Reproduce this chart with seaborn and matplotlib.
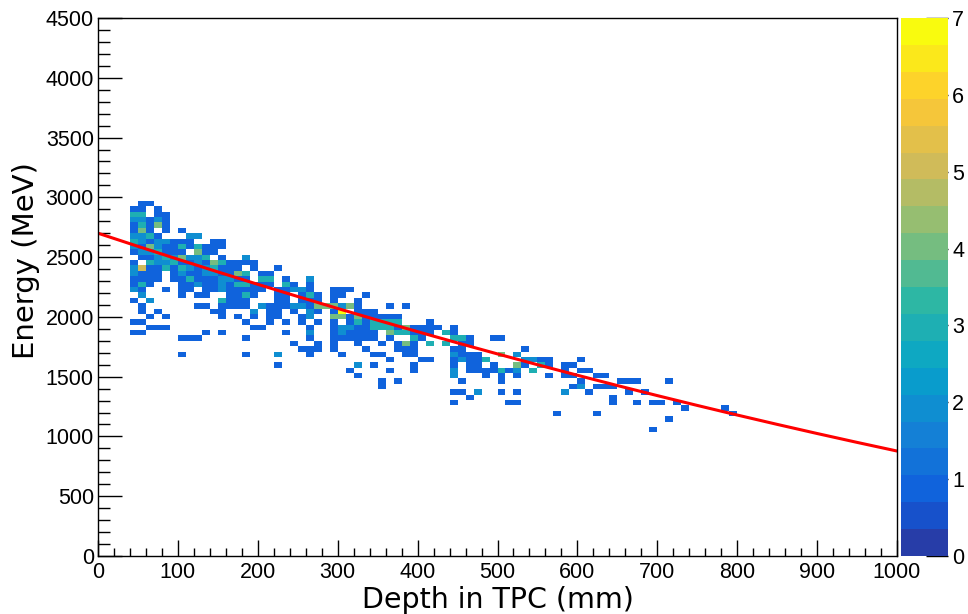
#Energy vs depth 2D histogram with pol2 fit (ROOT style look)
import numpy as np
import pandas as pd
import matplotlib
matplotlib.use("Agg")
import matplotlib.pyplot as plt
from matplotlib.colors import LinearSegmentedColormap, ListedColormap
from matplotlib.ticker import MultipleLocator
import seaborn as sns

#binning of the TH2 (100 x 100 bins)
depth_nbins, depth_range = 100, (0, 1000)
energy_nbins, energy_range = 100, (0, 4500)

#filled cells -> {energy bin: {depth bin: entries}}
cells_near = {
    65: {5: 1, 6: 1},
    64: {4: 1, 5: 1, 7: 1},
    63: {4: 3, 5: 3, 7: 1, 8: 1},
    62: {4: 2, 5: 2, 6: 1, 7: 2, 8: 1},
    61: {4: 1, 5: 3, 6: 1, 7: 4, 8: 1},
    60: {4: 1, 5: 4, 6: 1, 8: 1, 10: 1},
    59: {4: 2, 5: 2, 6: 3, 7: 1, 11: 2, 12: 2},
    58: {4: 3, 5: 2, 6: 1, 7: 2, 8: 2, 9: 1, 10: 1, 11: 1, 14: 1, 15: 1},
    57: {4: 2, 5: 1, 6: 4, 7: 2, 8: 1, 9: 1, 10: 3, 11: 1, 12: 3, 13: 1, 14: 1, 15: 1},
    56: {4: 1, 5: 2, 6: 2, 7: 3, 8: 1, 9: 1, 10: 1, 12: 4, 13: 1, 14: 1},
    55: {5: 1, 6: 1, 7: 2, 8: 3, 9: 2, 10: 4, 11: 2, 12: 2, 13: 3, 15: 1, 18: 2},
    54: {4: 1, 6: 3, 7: 2, 8: 2, 9: 3, 10: 1, 11: 1, 12: 2, 13: 1, 14: 4, 15: 3, 16: 1,
         17: 1, 18: 1, 19: 1},
    53: {4: 2, 5: 5, 6: 1, 7: 1, 8: 3, 9: 1, 10: 3, 11: 2, 12: 1, 13: 2, 14: 3, 15: 1,
         16: 1, 17: 1, 19: 1, 22: 1},
    52: {4: 2, 5: 1, 6: 1, 7: 1, 9: 1, 10: 2, 11: 1, 12: 1, 13: 2, 14: 2, 15: 1, 16: 1,
         17: 4, 18: 3, 20: 1, 21: 1},
    51: {4: 1, 5: 1, 6: 1, 7: 1, 9: 1, 10: 1, 11: 3, 12: 1, 13: 1, 14: 1, 15: 2, 16: 2,
         17: 1, 18: 1, 20: 3, 21: 3, 23: 1, 26: 2},
    50: {4: 1, 5: 3, 6: 1, 10: 1, 11: 1, 12: 2, 13: 1, 14: 1, 15: 2, 16: 1, 17: 3, 18: 3,
         19: 1, 20: 1, 21: 1, 23: 3, 24: 1, 26: 1},
    49: {4: 2, 5: 1, 8: 1, 10: 1, 11: 1, 13: 1, 14: 1, 15: 2, 16: 1, 17: 1, 18: 1, 19: 1,
         20: 1, 22: 1, 23: 1, 24: 2, 25: 2, 26: 1},
    48: {5: 2, 10: 1, 12: 1, 13: 1, 16: 1, 17: 1, 18: 3, 19: 1, 22: 1, 23: 1, 25: 1,
         26: 3, 27: 1},
    47: {4: 1, 6: 2, 15: 3, 16: 1, 17: 1, 18: 1, 22: 1, 23: 1, 25: 1, 26: 1, 27: 1},
    46: {5: 1, 12: 1, 13: 1, 15: 1, 16: 1, 17: 1, 18: 1, 20: 2, 21: 1, 22: 1, 23: 1,
         24: 2, 25: 2, 26: 1, 27: 4, 28: 4},
    45: {5: 1, 7: 1, 14: 1, 15: 1, 19: 2, 21: 1, 22: 1, 24: 1, 26: 2, 27: 1},
    44: {6: 1, 8: 1, 15: 1, 17: 1, 19: 1, 21: 1, 22: 1, 25: 1, 26: 2},
    43: {4: 1, 5: 1, 18: 1, 21: 1, 23: 1, 25: 1, 27: 1},
    42: {6: 1, 7: 1, 8: 1, 19: 1, 20: 1, 26: 1},
    41: {4: 1, 5: 1, 13: 1, 15: 1, 23: 1, 26: 2},
    40: {10: 1, 11: 1, 12: 1, 18: 1, 26: 1},
    39: {24: 1, 27: 1},
    38: {25: 1, 26: 1, 27: 1},
    37: {10: 1, 18: 1, 22: 2, 26: 1},
    35: {22: 1},
}
cells_mid = {
    49: {29: 1, 30: 1, 31: 1},
    48: {29: 1, 30: 1, 33: 1},
    47: {29: 1, 32: 1},
    46: {29: 4, 30: 2, 31: 4, 32: 1, 36: 1, 38: 1},
    45: {29: 1, 30: 7, 32: 1, 33: 1, 34: 1},
    44: {29: 4, 30: 4, 31: 1, 32: 4, 33: 1, 34: 1, 35: 1, 36: 1, 37: 1},
    43: {29: 1, 31: 1, 32: 3, 33: 1, 34: 3, 35: 3, 36: 3, 37: 3, 41: 1},
    42: {29: 1, 30: 2, 31: 2, 32: 1, 33: 1, 34: 3, 35: 3, 36: 3, 37: 1, 38: 4, 39: 1,
         40: 1, 41: 1, 42: 1, 44: 1},
    41: {29: 1, 30: 2, 31: 1, 32: 1, 33: 1, 34: 1, 36: 4, 37: 3, 38: 3, 39: 1, 40: 1,
         41: 1, 43: 3, 44: 1},
    40: {29: 1, 30: 1, 31: 1, 32: 1, 33: 1, 34: 1, 36: 1, 39: 3, 40: 1, 44: 3, 45: 3,
         46: 1, 49: 1, 50: 1},
    39: {29: 1, 32: 1, 35: 1, 37: 1, 38: 4, 39: 1, 41: 3, 43: 3, 45: 1, 46: 1},
    38: {29: 1, 33: 1, 37: 1, 38: 1, 39: 1, 44: 1, 45: 1, 53: 1},
    37: {30: 1, 34: 1, 35: 1, 38: 1, 39: 1, 44: 2, 45: 1, 46: 1, 47: 1, 50: 4, 52: 2},
    36: {36: 1, 40: 1, 41: 1, 44: 1, 45: 2, 46: 1, 47: 1, 48: 3, 53: 2, 54: 2},
    35: {32: 2, 34: 1, 39: 1, 44: 1, 46: 1, 47: 1, 49: 1, 52: 4, 53: 1},
    34: {31: 1, 36: 1, 39: 1, 44: 2, 46: 1, 47: 1, 48: 1, 49: 1, 50: 3, 51: 1, 52: 2,
         54: 3},
    33: {32: 1, 44: 2, 48: 1, 50: 1, 52: 1},
    32: {35: 1, 37: 1, 45: 1, 50: 1},
    31: {35: 1},
    30: {44: 1, 45: 1, 47: 2, 50: 1, 52: 1},
    29: {46: 1},
    28: {44: 1, 51: 1, 52: 1},
}
cells_far = {
    36: {55: 1, 56: 1, 60: 1},
    35: {55: 3, 56: 1, 58: 1, 59: 1},
    34: {58: 1, 60: 1, 61: 1},
    33: {56: 1, 58: 1, 59: 1, 62: 1, 63: 1},
    32: {60: 1, 65: 1, 66: 1, 67: 1, 71: 1},
    31: {59: 1, 60: 2, 62: 1, 63: 1, 64: 1},
    30: {58: 2, 61: 1, 66: 1, 68: 1},
    29: {64: 1},
    28: {64: 1, 67: 1, 69: 1, 70: 1, 72: 1},
    27: {73: 1, 78: 1},
    26: {57: 1, 62: 1, 79: 1},
    25: {71: 1},
    23: {69: 1},
}

#pol2 fit parameters of the red curve
fit_p0, fit_p1, fit_p2 = 2700.0, -2.217, 0.000395

#colour scale: ROOT kBird palette split in 20 contours from 0 to 7
z_max = 7
n_contours = 20
bird_stops = [0.0, 0.125, 0.25, 0.375, 0.5, 0.625, 0.75, 0.875, 1.0]
bird_rgb = [(0.2082, 0.1664, 0.5293), (0.0592, 0.3599, 0.8684), (0.0780, 0.5041, 0.8385),
            (0.0232, 0.6419, 0.7914), (0.1802, 0.7178, 0.6425), (0.5301, 0.7492, 0.4662),
            (0.8186, 0.7328, 0.3499), (0.9956, 0.7862, 0.1968), (0.9764, 0.9832, 0.0539)]
bird = LinearSegmentedColormap.from_list("bird", list(zip(bird_stops, bird_rgb)))
bird_steps = ListedColormap([bird((k + 0.99) / n_contours) for k in range(n_contours)])

#flatten the cells to a weighted table
dx = (depth_range[1] - depth_range[0]) / depth_nbins
dy = (energy_range[1] - energy_range[0]) / energy_nbins
rows = []
for block in (cells_near, cells_mid, cells_far):
    for j, row in block.items():
        for i, n in row.items():
            rows.append((depth_range[0] + (i + 0.5) * dx, energy_range[0] + (j + 0.5) * dy, n))
df = pd.DataFrame(rows, columns=["depth", "energy", "entries"])

fit_df = pd.DataFrame({"depth": np.linspace(0, 1000, 201)})
fit_df["energy"] = fit_p0 + fit_p1 * fit_df["depth"] + fit_p2 * fit_df["depth"] ** 2

sns.set_style("white", rc={"text.color": "black", "axes.labelcolor": "black",
                           "xtick.color": "black", "ytick.color": "black",
                           "axes.edgecolor": "black"})
tick_font = "Liberation Sans"
title_font = "DejaVu Sans"

fig = plt.figure(figsize=(9.68, 6.14), dpi=100)
ax = fig.add_axes([98 / 968, 58 / 614, 799 / 968, 538 / 614])
cax = fig.add_axes([901 / 968, 58 / 614, 47 / 968, 538 / 614])

sns.histplot(data=df, x="depth", y="energy", weights="entries",
             bins=(depth_nbins, energy_nbins), binrange=(depth_range, energy_range),
             cmap=bird_steps, vmin=0, vmax=z_max, cbar=True, cbar_ax=cax, ax=ax)
sns.lineplot(data=fit_df, x="depth", y="energy", color="#ff0000", lw=2.2, ax=ax)

ax.set_xlim(*depth_range)
ax.set_ylim(*energy_range)
ax.xaxis.set_major_locator(MultipleLocator(100))
ax.xaxis.set_minor_locator(MultipleLocator(20))
ax.yaxis.set_major_locator(MultipleLocator(500))
ax.yaxis.set_minor_locator(MultipleLocator(100))
ax.tick_params(axis="both", which="both", direction="in", color="black", width=1,
               labelcolor="black", bottom=True, left=True, top=False, right=False)
ax.tick_params(axis="x", which="major", length=11.5, pad=4)
ax.tick_params(axis="x", which="minor", length=5.8)
ax.tick_params(axis="y", which="major", length=17, pad=3)
ax.tick_params(axis="y", which="minor", length=8.6)
for lab in ax.get_xticklabels() + ax.get_yticklabels():
    lab.set_fontfamily(tick_font)
    lab.set_fontsize(15.5)
for sp in ax.spines.values():
    sp.set_visible(True)
    sp.set_color("black")
    sp.set_linewidth(1)

ax.set_xlabel("Depth in TPC (mm)", fontfamily=title_font, fontsize=20.5, color="black")
ax.set_ylabel("Energy (MeV)", fontfamily=title_font, fontsize=21, color="black")
ax.xaxis.set_label_coords(0.5, -0.056)
ax.yaxis.set_label_coords(-0.072, 0.55)

cbar = ax.collections[0].colorbar
cbar.outline.set_visible(False)
cbar.set_ticks(range(0, z_max + 1))
cax.tick_params(direction="in", length=16, width=1, color="black", labelcolor="black", pad=3)
for lab in cax.get_yticklabels():
    lab.set_fontfamily(tick_font)
    lab.set_fontsize(15.5)

fig.savefig("out.png", dpi=100)
plt.close()
